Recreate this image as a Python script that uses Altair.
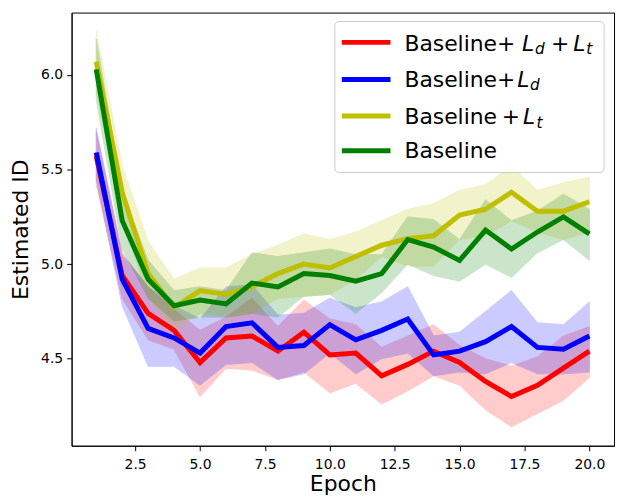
import altair as alt
import pandas as pd

# ---------------- data ----------------
epochs = list(range(1, 21))

series_names = ["Baseline+ Ld + Lt", "Baseline+Ld", "Baseline + Lt", "Baseline"]
series_colors = ["#ff0000", "#0000ff", "#bfbf00", "#008000"]

red_mean = [5.57, 4.94, 4.74, 4.65, 4.48, 4.61, 4.62, 4.54, 4.64, 4.52,
            4.53, 4.41, 4.47, 4.54, 4.48, 4.38, 4.30, 4.36, 4.45, 4.54]
red_lo = [5.42, 4.82, 4.60, 4.55, 4.30, 4.45, 4.44, 4.39, 4.43, 4.32,
          4.37, 4.26, 4.33, 4.41, 4.36, 4.23, 4.14, 4.21, 4.28, 4.40]
red_hi = [5.70, 5.06, 4.88, 4.76, 4.65, 4.72, 4.82, 4.67, 4.81, 4.71,
          4.68, 4.56, 4.62, 4.68, 4.57, 4.50, 4.46, 4.51, 4.62, 4.67]

blue_mean = [5.59, 4.92, 4.66, 4.61, 4.53, 4.67, 4.69, 4.56, 4.57, 4.68,
             4.60, 4.65, 4.71, 4.52, 4.54, 4.59, 4.67, 4.56, 4.55, 4.62]
blue_lo = [5.45, 4.78, 4.46, 4.46, 4.36, 4.47, 4.48, 4.39, 4.42, 4.53,
           4.42, 4.50, 4.53, 4.41, 4.43, 4.42, 4.48, 4.42, 4.42, 4.43]
blue_hi = [5.72, 5.05, 4.88, 4.78, 4.71, 4.88, 4.89, 4.73, 4.74, 4.82,
           4.77, 4.80, 4.88, 4.62, 4.64, 4.75, 4.86, 4.69, 4.68, 4.80]

yellow_mean = [6.07, 5.38, 4.95, 4.77, 4.86, 4.84, 4.88, 4.95, 5.00, 4.98,
               5.04, 5.10, 5.135, 5.15, 5.26, 5.29, 5.38, 5.28, 5.28, 5.33]
yellow_lo = [5.92, 5.25, 4.82, 4.65, 4.74, 4.72, 4.74, 4.82, 4.83, 4.84,
             4.92, 5.04, 4.99, 4.99, 5.13, 5.15, 5.23, 5.17, 5.13, 5.17]
yellow_hi = [6.235, 5.52, 5.12, 4.92, 4.98, 4.98, 5.05, 5.10, 5.16, 5.13,
             5.17, 5.23, 5.29, 5.32, 5.39, 5.42, 5.52, 5.39, 5.43, 5.46]

green_mean = [6.03, 5.23, 4.92, 4.78, 4.81, 4.79, 4.90, 4.88, 4.95, 4.94,
              4.91, 4.95, 5.13, 5.09, 5.02, 5.18, 5.08, 5.17, 5.25, 5.16]
green_lo = [5.87, 5.08, 4.82, 4.70, 4.72, 4.72, 4.74, 4.72, 4.83, 4.84,
            4.74, 4.85, 5.00, 4.94, 4.91, 5.00, 4.93, 5.06, 5.13, 5.02]
green_hi = [6.19, 5.38, 5.02, 4.86, 4.88, 4.86, 5.06, 5.04, 5.06, 5.08,
            5.05, 5.05, 5.25, 5.235, 5.13, 5.34, 5.23, 5.28, 5.37, 5.29]

x_ticks = [2.5, 5.0, 7.5, 10.0, 12.5, 15.0, 17.5, 20.0]
y_ticks = [4.5, 5.0, 5.5, 6.0]

all_means = [red_mean, blue_mean, yellow_mean, green_mean]
all_los = [red_lo, blue_lo, yellow_lo, green_lo]
all_his = [red_hi, blue_hi, yellow_hi, green_hi]

rows = []
for name, mean, lo, hi in zip(series_names, all_means, all_los, all_his):
    for e, m, l, h in zip(epochs, mean, lo, hi):
        rows.append({"series": name, "epoch": e, "mean": m, "lo": l, "hi": h})
df = pd.DataFrame(rows)

FONT = "DejaVu Sans"

x_scale = alt.Scale(domain=[0.05, 20.95], nice=False, zero=False)
y_scale = alt.Scale(domain=[4.04, 6.33], nice=False, zero=False)
color_scale = alt.Scale(domain=series_names, range=series_colors)

x_enc = alt.X("epoch:Q", scale=x_scale,
              axis=alt.Axis(title="Epoch", values=x_ticks, format=".1f",
                            labelPadding=7, titlePadding=2))
y_axis = alt.Axis(title="Estimated ID", values=y_ticks, format=".1f",
                  titlePadding=8)

bands = []
lines = []
for name in series_names:
    base = alt.Chart(df).transform_filter(alt.datum.series == name)
    bands.append(
        base.mark_area(opacity=0.2, strokeWidth=1).encode(
            x=x_enc,
            y=alt.Y("lo:Q", scale=y_scale, axis=y_axis),
            y2="hi:Q",
            color=alt.Color("series:N", scale=color_scale, legend=None),
            stroke=alt.Stroke("series:N", scale=color_scale, legend=None),
        )
    )
    lines.append(
        base.mark_line(strokeWidth=5).encode(
            x=x_enc,
            y=alt.Y("mean:Q", scale=y_scale, axis=y_axis),
            color=alt.Color("series:N", scale=color_scale, legend=None),
        )
    )

# ---------------- custom legend (mathtext-like labels) ----------------
one = pd.DataFrame({"k": [0]})
legend_layers = [
    alt.Chart(one).mark_rect(fill="white", fillOpacity=0.8, stroke="#cccccc",
                             strokeWidth=1, cornerRadius=4).encode(
        x=alt.value(265), x2=alt.value(536), y=alt.value(9), y2=alt.value(161))
]

line_ys = [30, 67.3, 104, 139]
for c, ly in zip(series_colors, line_ys):
    legend_layers.append(
        alt.Chart(one).mark_rule(color=c, strokeWidth=5).encode(
            x=alt.value(272), x2=alt.value(321), y=alt.value(ly))
    )

# pieces: (text, x, baseline y, italic, subscript)
label_pieces = [
    ("Baseline+", 335, 38.3, False, False),
    ("L", 453.5, 38.3, True, False),
    ("d", 466.5, 41.7, True, True),
    ("+", 482.5, 38.3, False, False),
    ("L", 505, 38.3, True, False),
    ("t", 518, 41.7, True, True),
    ("Baseline+", 335, 74.7, False, False),
    ("L", 448.5, 74.7, True, False),
    ("d", 461.5, 78.1, True, True),
    ("Baseline", 335, 112.3, False, False),
    ("+", 433, 112.3, False, False),
    ("L", 454.5, 112.3, True, False),
    ("t", 468, 115.7, True, True),
    ("Baseline", 335, 146.7, False, False),
]
for txt, px, py, ital, sub in label_pieces:
    legend_layers.append(
        alt.Chart(one).mark_text(
            text=txt, align="left", baseline="alphabetic", font=FONT,
            fontSize=15.4 if sub else 22,
            fontStyle="italic" if ital else "normal", color="black",
        ).encode(x=alt.value(px), y=alt.value(py))
    )

chart = alt.layer(*bands, *lines, *legend_layers).properties(
    width=546,
    height=436,
    autosize=alt.AutoSizeParams(type="none"),
    padding={"left": 64, "top": 3, "right": 3, "bottom": 50},
).configure_view(
    stroke="black", strokeWidth=1
).configure_axis(
    grid=False,
    domainColor="black",
    domainWidth=1,
    tickColor="black",
    tickSize=5,
    tickWidth=1,
    labelFont=FONT,
    labelFontSize=14,
    labelColor="black",
    labelPadding=4,
    labelFlush=False,
    titleFont=FONT,
    titleFontSize=22,
    titleFontWeight="normal",
    titleColor="black",
)

chart.save("out.html", embed_options={"renderer": "svg", "actions": False})
